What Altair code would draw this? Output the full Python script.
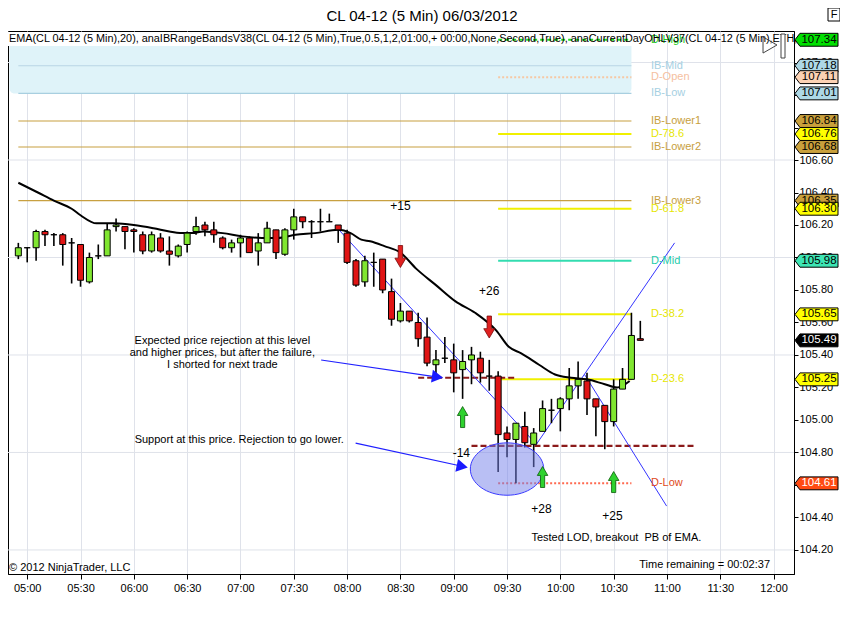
import altair as alt
import pandas as pd

FONT = "Liberation Sans Narrow, Arial Narrow, Liberation Sans, Arial"

# ---------------- candles (5 min bars) ----------------
bar_times = ["04:55","05:00","05:05","05:10","05:15","05:20","05:25","05:30","05:35","05:40",
             "05:45","05:50","05:55","06:00","06:05","06:10","06:15","06:20","06:25","06:30",
             "06:35","06:40","06:45","06:50","06:55","07:00","07:05","07:10","07:15","07:20",
             "07:25","07:30","07:35","07:40","07:45","07:50","07:55","08:00","08:05","08:10",
             "08:15","08:20","08:25","08:30","08:35","08:40","08:45","08:50","08:55","09:00",
             "09:05","09:10","09:15","09:20","09:25","09:30","09:35","09:40","09:45","09:50",
             "09:55","10:00","10:05","10:10","10:15","10:20","10:25","10:30","10:35","10:40","10:45"]
opens  = [106.01,106.06,106.06,106.16,106.14,106.14,106.09,106.08,105.85,106.01,
          106.01,106.19,106.19,106.17,106.14,106.04,106.12,106.04,106.01,106.08,
          106.16,106.20,106.17,106.12,106.06,106.09,106.12,106.04,106.09,106.17,
          106.02,106.17,106.25,106.22,106.22,106.22,106.20,106.15,105.98,105.85,
          105.97,105.99,105.79,105.61,105.67,105.60,105.51,105.34,105.38,105.37,
          105.31,105.37,105.38,105.27,105.27,104.92,104.88,104.96,104.85,104.93,
          105.06,105.07,105.13,105.21,105.24,105.13,105.09,104.99,105.19,105.25,105.50]
highs  = [106.09,106.06,106.17,106.17,106.15,106.15,106.12,106.08,106.03,106.08,
          106.21,106.24,106.19,106.18,106.16,106.16,106.15,106.13,106.08,106.16,
          106.25,106.22,106.22,106.13,106.11,106.14,106.13,106.15,106.22,106.17,
          106.18,106.30,106.25,106.23,106.30,106.27,106.20,106.17,105.99,106.01,
          106.03,105.99,105.87,105.72,105.67,105.66,105.63,105.43,105.51,105.47,
          105.43,105.45,105.42,105.37,105.30,104.96,104.98,105.05,104.95,105.12,
          105.13,105.14,105.32,105.36,105.29,105.13,105.09,105.25,105.32,105.66,105.61]
lows   = [105.99,105.97,105.98,106.07,106.07,105.95,105.84,105.82,105.84,105.99,
          106.01,106.16,106.05,106.03,106.02,106.03,106.03,105.95,106.00,106.03,
          106.14,106.13,106.09,106.05,106.03,106.00,106.03,105.95,106.09,105.99,
          106.01,106.11,106.18,106.12,106.16,106.22,106.09,105.96,105.82,105.82,
          105.82,105.78,105.58,105.60,105.60,105.45,105.33,105.27,105.35,105.17,
          105.13,105.22,105.23,105.18,104.68,104.77,104.61,104.83,104.71,104.93,
          104.98,104.93,105.06,105.13,105.03,104.90,104.82,104.96,105.19,105.25,105.49]
closes = [106.06,106.06,106.16,106.14,106.14,106.08,106.09,105.86,106.00,106.01,
          106.17,106.20,106.16,106.16,106.04,106.14,106.04,106.02,106.07,106.15,
          106.19,106.17,106.14,106.06,106.09,106.12,106.03,106.09,106.18,106.03,
          106.17,106.25,106.22,106.22,106.22,106.22,106.17,105.97,105.83,105.98,
          105.97,105.80,105.62,105.67,105.61,105.50,105.35,105.37,105.38,105.29,
          105.36,105.40,105.29,105.27,104.91,104.88,104.98,104.86,104.92,105.07,
          105.06,105.13,105.21,105.25,105.13,105.08,104.99,105.19,105.25,105.52,105.49]

# ---------------- EMA(20) ----------------
ema_times = ["04:55","05:06","05:15","05:25","05:30","05:39","05:49","06:00","06:11","06:20",
             "06:26","06:33","06:39","06:50","07:01","07:12","07:21","07:31","07:42","07:55",
             "08:02","08:08","08:13","08:21","08:30","08:39","08:50","09:01","09:12","09:24",
             "09:31","09:38","09:48","09:57","10:06","10:15","10:25","10:32","10:39"]
ema_vals = [106.46,106.40,106.35,106.30,106.26,106.21,106.21,106.20,106.18,106.16,
            106.15,106.15,106.16,106.15,106.13,106.12,106.12,106.14,106.15,106.17,
            106.15,106.11,106.10,106.07,106.03,105.93,105.83,105.73,105.66,105.55,
            105.45,105.41,105.34,105.28,105.26,105.25,105.22,105.20,105.24]

# ---------------- levels ----------------
ib_names  = ["IB-Mid", "IB-Low", "IB-Lower1", "IB-Lower2", "IB-Lower3"]
ib_prices = [107.18, 107.01, 106.84, 106.68, 106.35]
ib_colors = ["#b9d5e4", "#a8cfe0", "#c8a040", "#c8a040", "#c8a040"]
ib_label_colors = ["#a6d0e2", "#a6d0e2", "#c8a040", "#c8a040", "#c8a040"]
ib_high = 107.35
ib_start, ib_end = "04:55", "10:40"

day_names  = ["D-High", "D-Open", "D-78.6", "D-61.8", "D-Mid", "D-38.2", "D-23.6", "D-Low"]
day_prices = [107.34, 107.11, 106.76, 106.30, 105.98, 105.65, 105.25, 104.61]
day_colors = ["#22dd22", "#f6c8a4", "#f0f000", "#f0f000", "#33dcb0", "#f0f000", "#f0f000", "#ff6a50"]
day_label_colors = ["#22cc22", "#f5c0a0", "#e6e600", "#e6e600", "#22ccaa", "#e6e600", "#e6e600", "#e04a20"]
day_dotted = ["D-Open", "D-Low"]
day_dashed = ["D-High"]
day_start, day_end = "09:25", "10:40"
label_time = "10:51"

# right-axis markers
marker_prices = [107.34, 107.18, 107.11, 107.01, 106.84, 106.76, 106.68, 106.35, 106.30,
                 105.98, 105.65, 105.49, 105.25, 104.61]
marker_fills = ["#00e000", "#add8e6", "#fcd2b4", "#add8e6", "#c9a03c", "#ffff00", "#c9a03c",
                "#c9a03c", "#ffff00", "#3de6b4", "#ffff00", "#000000", "#ffff00", "#ff4a12"]
marker_text_colors = ["black"] * 11 + ["white", "black", "white"]

# user-drawn support / resistance (dark red dashed)
sr_prices = [105.26, 104.84]
sr_start = ["08:40", "09:10"]
sr_end = ["09:35", "11:15"]

# blue trend lines (start time, start price, end time, end price)
tl_t1 = [475.4, 586.5, 613.6]
tl_p1 = [106.17, 104.85, 105.28]
tl_t2 = [586.5, 664.3, 659.8]
tl_p2 = [104.85, 106.09, 104.47]

# trade arrows
down_times = ["08:30", "09:20"]
down_prices = [106.006, 105.572]
up_times = ["09:05", "09:50", "10:30"]
up_prices = [105.018, 104.649, 104.618]

# trade result labels
pl_text = ["+15", "+26", "-14", "+28", "+25"]
pl_times = [510.0, 560.0, 544.3, 589.4, 629.3]
pl_prices = [106.317, 105.794, 104.797, 104.452, 104.409]

# annotations
note_text = ["Expected price rejection at this level\nand higher prices, but after the failure,\nI shorted for next trade",
             "Support at this price. Rejection to go lower."]
note_times = [409.8, 419.3]
note_prices = [105.486, 104.877]
lod_text = "Tested LOD, breakout\u00a0 PB of EMA."
lod_time, lod_price = 583.7, 104.274

# annotation arrows (blue)
arr_t1 = [465.4, 484.8]
arr_p1 = [105.369, 104.857]
arr_t2 = [532.0, 546.0]
arr_p2 = [105.262, 104.712]
arr_head_t = [530.9, 544.8]
arr_head_p = [105.265, 104.714]
arr_angle = [8, 12]

# support ellipse
ell_time, ell_price = 570.0, 104.698

x_ticks = ["05:00","05:30","06:00","06:30","07:00","07:30","08:00","08:30","09:00","09:30",
           "10:00","10:30","11:00","11:30","12:00"]
y_ticks = [104.2, 104.4, 104.6, 104.8, 105.0, 105.2, 105.4, 105.6, 105.8, 106.0,
           106.2, 106.4, 106.6, 106.8, 107.0, 107.2]
grid_prices = [104.2, 104.8, 105.4, 106.0, 106.6, 107.2]

header = ("EMA(CL 04-12 (5 Min),20), anaIBRangeBandsV38(CL 04-12 (5 Min),True,0.5,1,2,01:00,+ 00:00,"
          "None,Second,True), anaCurrentDayOHLV37(CL 04-12 (5 Min),ETH,")
title = "CL 04-12 (5 Min)  06/03/2012"


def tm(s):
    h, m = s.split(":")
    return int(h) * 60 + int(m)


W, H = 786, 543
PX_PER_MIN = 1.8
X_DOMAIN = [292, 292 + W / PX_PER_MIN]
Y_DOMAIN = [104.052, 107.394]
xs = alt.Scale(domain=X_DOMAIN, nice=False, zero=False)
ys = alt.Scale(domain=Y_DOMAIN, nice=False, zero=False)

label_expr = "format(floor(datum.value/60),'02d') + ':' + format(datum.value%60,'02d')"
X_AXIS = alt.Axis(values=[tm(t) for t in x_ticks], labelExpr=label_expr, grid=True,
                  tickSize=5, labelPadding=3, title=None, labelFlush=False, labelOverlap=False)
Y_AXIS = alt.Axis(values=y_ticks, orient="right", format=".2f", grid=False, tickSize=4,
                  labelPadding=1, title=None, labelFlush=False, labelOverlap=False)


def X(f="t"):
    return alt.X(f"{f}:Q", scale=xs, axis=X_AXIS)


def Y(f="p"):
    return alt.Y(f"{f}:Q", scale=ys, axis=Y_AXIS)


# ---------------- data frames ----------------
candles = pd.DataFrame({"t": [tm(s) for s in bar_times], "o": opens, "h": highs, "l": lows, "c": closes})
candles["lo_body"] = candles[["o", "c"]].min(axis=1)
candles["hi_body"] = candles[["o", "c"]].max(axis=1)
candles["col"] = ["#80e630" if c > o else ("#e01414" if c < o else "black") for o, c in zip(opens, closes)]

ema = pd.DataFrame({"t": [tm(s) for s in ema_times], "p": ema_vals})

ib_df = pd.DataFrame({"name": ib_names, "p": ib_prices, "col": ib_colors, "lcol": ib_label_colors,
                      "t1": tm(ib_start), "t2": tm(ib_end), "tl": tm(label_time)})
day_df = pd.DataFrame({"name": day_names, "p": day_prices, "col": day_colors, "lcol": day_label_colors,
                       "t1": tm(day_start), "t2": tm(day_end), "tl": tm(label_time)})
labels_df = pd.concat([ib_df, day_df])

box_df = pd.DataFrame({"t1": [tm("04:50")], "t2": [tm(ib_end)], "p1": [ib_prices[1]], "p2": [ib_high]})

markers = pd.DataFrame({"p": marker_prices, "fill": marker_fills, "tcol": marker_text_colors,
                        "txt": [f"{v:.2f}" for v in marker_prices]})

sr_df = pd.DataFrame({"p": sr_prices, "t1": [tm(s) for s in sr_start], "t2": [tm(s) for s in sr_end]})
tl_df = pd.DataFrame({"t1": tl_t1, "p1": tl_p1, "t2": tl_t2, "p2": tl_p2})
down_df = pd.DataFrame({"t": [tm(s) for s in down_times], "p": down_prices})
up_df = pd.DataFrame({"t": [tm(s) for s in up_times], "p": up_prices})
pl_df = pd.DataFrame({"t": pl_times, "p": pl_prices, "txt": pl_text})
note_df = pd.DataFrame({"t": note_times, "p": note_prices, "txt": note_text})
lod_df = pd.DataFrame({"t": [lod_time], "p": [lod_price], "txt": [lod_text]})
arr_df = pd.DataFrame({"t1": arr_t1, "p1": arr_p1, "t2": arr_t2, "p2": arr_p2})
head_df = pd.DataFrame({"t": arr_head_t, "p": arr_head_p, "a": arr_angle})
ell_df = pd.DataFrame({"t": [ell_time], "p": [ell_price]})
one = pd.DataFrame({"a": [0]})
grid_df = pd.DataFrame({"p": grid_prices})

# ---------------- layers ----------------
hgrid = alt.Chart(grid_df).mark_rule(color="#dfe2ea", strokeWidth=1).encode(y=Y())

ib_box = alt.Chart(box_df).mark_rect(color="#dff3f9", cornerRadius=5).encode(
    x=X("t1"), x2="t2", y=Y("p1"), y2="p2")

header_band = alt.Chart(one).mark_rect(color="white").encode(
    x=alt.value(0), x2=alt.value(632), y=alt.value(1), y2=alt.value(15))

ib_lines = alt.Chart(ib_df).mark_rule(strokeWidth=1.2).encode(
    x=X("t1"), x2="t2", y=Y(), color=alt.Color("col:N", scale=None))

solid_day = alt.Chart(day_df[~day_df.name.isin(day_dotted + day_dashed)]).mark_rule(strokeWidth=2).encode(
    x=X("t1"), x2="t2", y=Y(), color=alt.Color("col:N", scale=None))
dotted_day = alt.Chart(day_df[day_df.name.isin(day_dotted)]).mark_rule(strokeWidth=2, strokeDash=[2, 2]).encode(
    x=X("t1"), x2="t2", y=Y(), color=alt.Color("col:N", scale=None))
dashed_day = alt.Chart(day_df[day_df.name.isin(day_dashed)]).mark_rule(strokeWidth=2, strokeDash=[4, 3]).encode(
    x=X("t1"), x2="t2", y=Y(), color=alt.Color("col:N", scale=None))

sr_lines = alt.Chart(sr_df).mark_rule(color="#8b1a1a", strokeWidth=2.2, strokeDash=[6, 3]).encode(
    x=X("t1"), x2="t2", y=Y())

trend = alt.Chart(tl_df).mark_rule(color="#3535ff", strokeWidth=1).encode(
    x=X("t1"), x2="t2", y=Y("p1"), y2="p2")

ema_line = alt.Chart(ema).mark_line(color="black", strokeWidth=2, interpolate="monotone").encode(
    x=X(), y=Y())

wicks = alt.Chart(candles).mark_rule(color="black", strokeWidth=1.6).encode(
    x=X(), y=Y("l"), y2="h")

bodies = alt.Chart(candles).mark_bar(size=6, stroke="black", strokeWidth=1).encode(
    x=X(), y=Y("lo_body"), y2="hi_body", color=alt.Color("col:N", scale=None))

ELLIPSE = "M -1 0 A 1 0.714 0 1 0 1 0 A 1 0.714 0 1 0 -1 0 Z"
ellipse = alt.Chart(ell_df).mark_point(shape=ELLIPSE, filled=True, size=5388, fill="#7480ea",
                                       fillOpacity=0.5, stroke="#3c3cff", strokeWidth=1, opacity=1).encode(
    x=X(), y=Y())

DOWN = "M -0.2 -1 L 0.2 -1 L 0.2 0.15 L 0.5 0.15 L 0 1 L -0.5 0.15 L -0.2 0.15 Z"
UP = "M -0.2 1 L 0.2 1 L 0.2 -0.15 L 0.5 -0.15 L 0 -1 L -0.5 -0.15 L -0.2 -0.15 Z"
down_arr = alt.Chart(down_df).mark_point(shape=DOWN, filled=True, size=484, fill="#e02020",
                                         stroke="#7a0a0a", strokeWidth=0.8, opacity=1).encode(x=X(), y=Y())
up_arr = alt.Chart(up_df).mark_point(shape=UP, filled=True, size=441, fill="#2ed22e",
                                     stroke="#0a5a0a", strokeWidth=0.8, opacity=1).encode(x=X(), y=Y())

pl_txt = alt.Chart(pl_df).mark_text(font=FONT, fontSize=12, color="black").encode(
    x=X(), y=Y(), text="txt:N")

notes = alt.Chart(note_df).mark_text(font=FONT, fontSize=11, color="black", lineBreak="\n",
                                     lineHeight=12).encode(x=X(), y=Y(), text="txt:N")
lod = alt.Chart(lod_df).mark_text(font=FONT, fontSize=11, color="black", align="left").encode(
    x=X(), y=Y(), text="txt:N")

ann_lines = alt.Chart(arr_df).mark_rule(color="#2020ff", strokeWidth=1.2).encode(
    x=X("t1"), x2="t2", y=Y("p1"), y2="p2")
ann_heads = alt.Chart(head_df).mark_point(shape="triangle-right", filled=True, size=170, fill="#1a1aff",
                                          opacity=1).encode(x=X(), y=Y(), angle=alt.Angle("a:Q", scale=None))

level_labels = alt.Chart(labels_df).mark_text(font=FONT, fontSize=11, align="left").encode(
    x=X("tl"), y=Y(), text="name:N", color=alt.Color("lcol:N", scale=None))

MARK = "M -1 0 L -0.77 -0.3 L 1 -0.3 L 1 0.3 L -0.77 0.3 Z"
marker_shapes = alt.Chart(markers).mark_point(shape=MARK, filled=True, size=1849, stroke="black",
                                              strokeWidth=1, opacity=1).encode(
    x=alt.value(W + 22.5), y=Y(), fill=alt.Fill("fill:N", scale=None))
marker_text = alt.Chart(markers).mark_text(font=FONT, fontSize=11.5, align="center").encode(
    x=alt.value(W + 25), y=Y(), text="txt:N", color=alt.Color("tcol:N", scale=None))

title_txt = alt.Chart(one).mark_text(text=title, font=FONT, fontSize=15, color="black").encode(
    x=alt.value(414), y=alt.value(-15))
header_txt = alt.Chart(one).mark_text(text=header, font=FONT, fontSize=10.85, color="black",
                                      align="left").encode(x=alt.value(1), y=alt.value(8))
play_btn = alt.Chart(one).mark_point(shape="triangle-right", filled=False, size=260, stroke="#444",
                                     strokeWidth=1, opacity=1).encode(x=alt.value(762), y=alt.value(14))
play_bar = alt.Chart(one).mark_rect(fill="white", stroke="#444", strokeWidth=1).encode(
    x=alt.value(773), x2=alt.value(777), y=alt.value(3), y2=alt.value(27))
time_left = alt.Chart(one).mark_text(text="Time remaining = 00:02:37", font=FONT, fontSize=11,
                                     color="black", align="right").encode(x=alt.value(762), y=alt.value(534))
copyright_txt = alt.Chart(one).mark_text(text="© 2012 NinjaTrader, LLC", font=FONT, fontSize=11,
                                         color="black", align="left").encode(x=alt.value(1), y=alt.value(537))
f_box = alt.Chart(one).mark_rect(fill="white", stroke="black", strokeWidth=1).encode(
    x=alt.value(820), x2=alt.value(832), y=alt.value(-23), y2=alt.value(-10))
f_txt = alt.Chart(one).mark_text(text="F", font=FONT, fontSize=11, color="black").encode(
    x=alt.value(826), y=alt.value(-16))

chart = alt.layer(
    hgrid, ib_box, header_band, ib_lines, solid_day, dotted_day, dashed_day,
    sr_lines, trend, ema_line, wicks, bodies, ellipse, down_arr, up_arr, pl_txt, notes, lod,
    ann_lines, ann_heads, level_labels, header_txt, play_btn, play_bar, marker_shapes, marker_text,
    title_txt, time_left, copyright_txt, f_box, f_txt
).properties(
    width=W, height=H,
    padding={"left": 0, "top": 23, "right": 46, "bottom": 38},
    autosize=alt.AutoSizeParams(type="none"),
    background="white",
).configure_view(stroke="black", strokeWidth=1).configure_axis(
    labelFont=FONT, labelFontSize=11, labelColor="black", tickColor="black",
    domainColor="black", gridColor="#dfe2ea"
)

chart.save("out.html", embed_options={"renderer": "svg", "actions": False})
